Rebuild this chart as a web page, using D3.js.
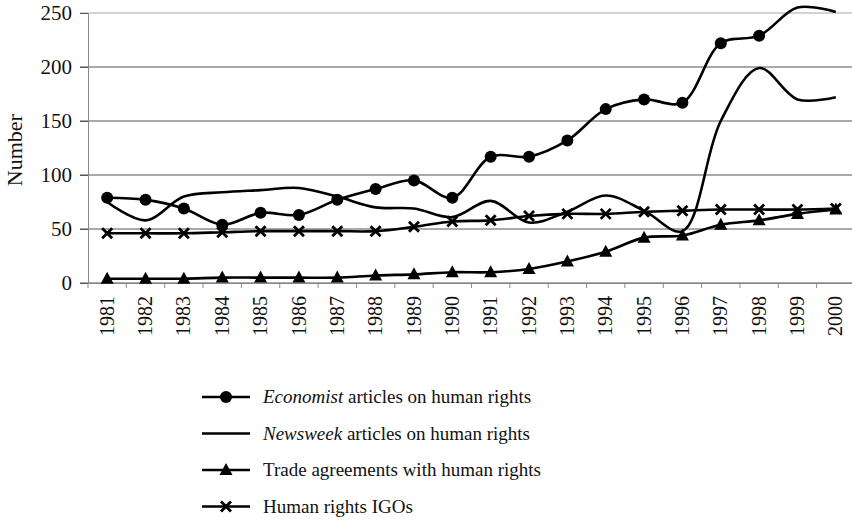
<!DOCTYPE html>
<html>
<head>
<meta charset="utf-8">
<script src="https://cdn.jsdelivr.net/npm/d3@7"></script>
<style>
  body { margin: 0; background: #fff; }
  svg text { font-family: "Liberation Serif", "Times New Roman", serif; fill: #111; }
</style>
</head>
<body>
<svg id="chart" width="852" height="520" font-family="Liberation Serif, serif"></svg>
<script>
const years = ['1981', '1982', '1983', '1984', '1985', '1986', '1987', '1988', '1989', '1990',
               '1991', '1992', '1993', '1994', '1995', '1996', '1997', '1998', '1999', '2000'];
const economist = [79, 77, 69, 54, 65, 63, 77, 87, 95, 79, 117, 117, 132, 161, 170, 167, 222, 229, 255, 251];
const newsweek = [75, 58, 80, 84, 86, 88, 80, 70, 69, 61, 76, 56, 66, 81, 67, 48, 150, 199, 170, 172];
const trade = [4, 4, 4, 5, 5, 5, 5, 7, 8, 10, 10, 13, 20, 29, 42, 44, 54, 58, 64, 68];
const igos = [46, 46, 46, 47, 48, 48, 48, 48, 52, 57, 58, 62, 64, 64, 66, 67, 68, 68, 68, 69];
const yTicks = [0, 50, 100, 150, 200, 250];

const series = [
  {key: 'economist', label: ['Economist', ' articles on human rights'], values: economist, marker: 'circle'},
  {key: 'newsweek', label: ['Newsweek', ' articles on human rights'], values: newsweek, marker: 'none'},
  {key: 'trade', label: ['', 'Trade agreements with human rights'], values: trade, marker: 'triangle'},
  {key: 'igos', label: ['', 'Human rights IGOs'], values: igos, marker: 'cross'}
];

const margin = {top: 13, left: 88, bottom: 237};
const plotRight = 855;
const svg = d3.select('#chart');
const height = 520 - margin.bottom - margin.top;
const serif = '"Liberation Serif", "Times New Roman", serif';

const x = d3.scaleBand().domain(years).range([margin.left, plotRight]);
const y = d3.scaleLinear().domain([0, 250]).range([margin.top + height, margin.top]);

// gridlines
svg.append('g')
  .selectAll('line')
  .data(yTicks)
  .enter().append('line')
  .attr('x1', margin.left - 8)
  .attr('x2', plotRight)
  .attr('y1', d => y(d))
  .attr('y2', d => y(d))
  .attr('stroke', d => d === 250 ? '#a6a6a6' : '#555');

// y axis
const yAxis = svg.append('g')
  .attr('transform', `translate(${margin.left}, 0)`)
  .call(d3.axisLeft(y).tickValues(yTicks).tickSize(8).tickPadding(8))
  .attr('font-family', null);
yAxis.select('.domain').attr('stroke', '#888');
yAxis.selectAll('.tick line').attr('stroke', '#555');
yAxis.selectAll('text').style('font-size', '21px').style('font-family', serif);

svg.append('text')
  .attr('transform', `translate(22, ${y(123)}) rotate(-90)`)
  .style('text-anchor', 'middle')
  .style('font-size', '22px')
  .text('Number');

// x axis
const xAxis = svg.append('g')
  .attr('transform', `translate(0, ${y(0)})`)
  .call(d3.axisBottom(x).tickSize(0).tickPadding(0))
  .attr('font-family', null);
xAxis.select('.domain').attr('stroke', '#888');
xAxis.selectAll('text')
  .attr('transform', 'rotate(-90)')
  .attr('x', -13)
  .attr('y', 0)
  .attr('dy', '0.33em')
  .style('text-anchor', 'end')
  .style('font-size', '20px')
  .style('font-family', serif);

// category separator ticks
svg.append('g')
  .selectAll('line')
  .data(years.concat(['end']))
  .enter().append('line')
  .attr('x1', (d, i) => margin.left + i * x.step())
  .attr('x2', (d, i) => margin.left + i * x.step())
  .attr('y1', y(0))
  .attr('y2', y(0) + 5)
  .attr('stroke', '#888');

const cx = d => x(d) + x.bandwidth() / 2;

const line = d3.line()
  .x((d, i) => cx(years[i]))
  .y(d => y(d))
  .curve(d3.curveCatmullRom.alpha(0.5));

const plot = svg.append('g');

function drawMarker(g, type, px, py) {
  if (type === 'circle') {
    g.append('circle').attr('cx', px).attr('cy', py).attr('r', 6).attr('fill', '#000');
  } else if (type === 'triangle') {
    g.append('path')
      .attr('d', `M${px},${py - 7}L${px + 6.5},${py + 5}L${px - 6.5},${py + 5}Z`)
      .attr('fill', '#000');
  } else if (type === 'cross') {
    g.append('path')
      .attr('d', `M${px - 5},${py - 5}L${px + 5},${py + 5}M${px - 5},${py + 5}L${px + 5},${py - 5}`)
      .attr('stroke', '#000')
      .attr('stroke-width', 2.8)
      .attr('fill', 'none');
  }
}

series.forEach(s => {
  plot.append('path')
    .datum(s.values)
    .attr('d', line)
    .attr('fill', 'none')
    .attr('stroke', '#000')
    .attr('stroke-width', 2.6);
  const mg = plot.append('g');
  s.values.forEach((v, i) => {
    if (v <= 250) drawMarker(mg, s.marker, cx(years[i]), y(v));
  });
});

// legend
const legend = svg.selectAll('.legend')
  .data(series)
  .enter().append('g')
  .attr('class', 'legend')
  .attr('transform', (d, i) => `translate(202, ${397 + i * 36.5})`);

legend.append('line')
  .attr('x1', 0).attr('x2', 48)
  .attr('y1', 0).attr('y2', 0)
  .attr('stroke', '#000')
  .attr('stroke-width', 2.6);

legend.each(function(d) {
  drawMarker(d3.select(this), d.marker, 24, 0);
});

const lt = legend.append('text')
  .attr('x', 61)
  .attr('y', 0)
  .attr('dy', '0.33em')
  .style('font-size', '19px')
  .style('font-family', serif);
lt.append('tspan').style('font-style', 'italic').text(d => d.label[0]);
lt.append('tspan').text(d => d.label[1]);
</script>
</body>
</html>
